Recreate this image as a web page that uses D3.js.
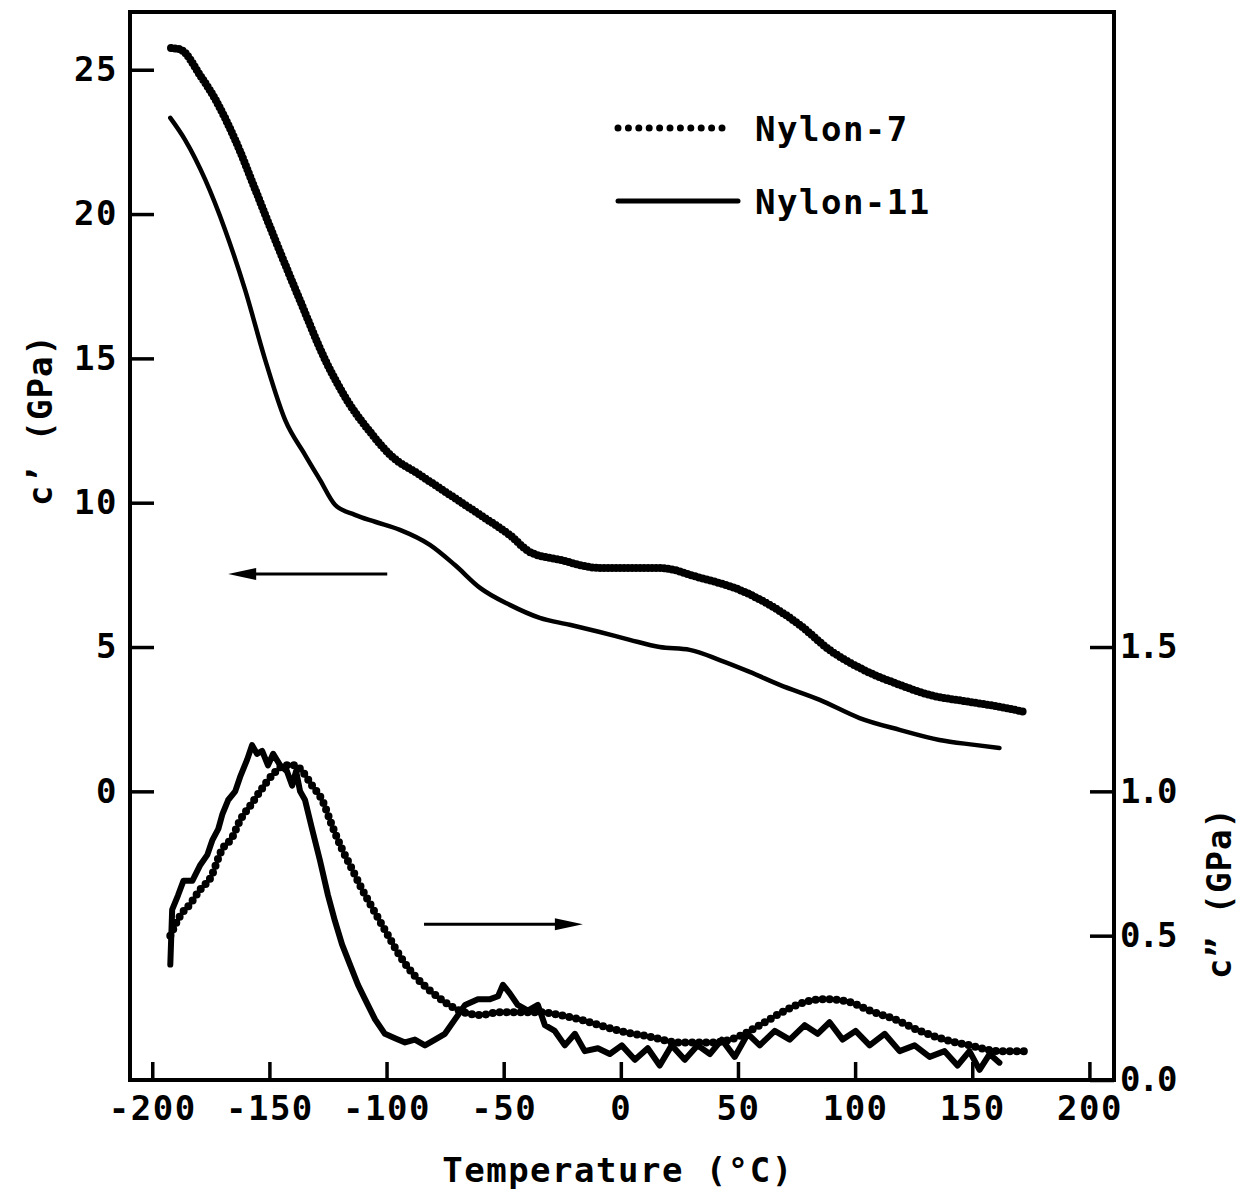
<!DOCTYPE html>
<html>
<head>
<meta charset="utf-8">
<script src="https://cdn.jsdelivr.net/npm/d3@7"></script>
<style>
  body { margin: 0; background: #fff; }
  text { font-family: "DejaVu Sans Mono", monospace; font-weight: bold; fill: #000; }
</style>
</head>
<body>
<script>
// storage modulus c' (left axis) - temperature, GPa
var n7StorT = [-192, -188, -179.5, -173, -164.6, -156, -147.5, -136.9, -126.2, -115.6, -107, -98.5, -85.7, -72.9, -60.1, -47.4, -38.8, -26, -9, 0, 16.6, 33.7, 50.7, 63.5, 76.3, 89.1, 101.9, 119, 131.8, 148.8, 161.6, 172.3];
var n7StorV = [25.75, 25.7, 24.8, 23.96, 22.57, 20.84, 19.1, 17.0, 14.95, 13.39, 12.45, 11.66, 10.96, 10.27, 9.58, 8.88, 8.29, 8.02, 7.74, 7.74, 7.74, 7.4, 6.98, 6.46, 5.77, 4.9, 4.28, 3.69, 3.34, 3.1, 2.93, 2.75];

var n11StorT = [-192.3, -186, -177.4, -168.9, -160.4, -151.8, -143.3, -134.8, -128.4, -122, -113.5, -104.9, -94.3, -81.5, -70.8, -60.1, -47.4, -34.6, -21.8, -9, 3.8, 16.6, 29.4, 42.2, 55, 67.8, 84.9, 101.9, 119, 136, 151, 161.6];
var n11StorV = [23.33, 22.57, 21.19, 19.45, 17.38, 14.95, 12.87, 11.66, 10.79, 9.93, 9.58, 9.34, 9.06, 8.54, 7.84, 7.05, 6.46, 6.01, 5.77, 5.52, 5.25, 5.0, 4.9, 4.55, 4.14, 3.69, 3.17, 2.54, 2.13, 1.78, 1.61, 1.5];

// loss modulus c'' (right axis)
var n7LossT = [-192.3, -188, -183.8, -179.5, -175.2, -170.1, -165.9, -162.5, -158.2, -154, -148.4, -143.3, -139, -136, -131.8, -127.5, -123.2, -119, -114.7, -110.4, -104.9, -99.3, -94.3, -87.9, -81.5, -75.1, -68.7, -60.1, -51.6, -43.1, -34.6, -26, -17.5, -9, -0.4, 12.4, 25.2, 38, 48.6, 59.3, 70, 78.5, 87.1, 97.7, 106.3, 117, 127.6, 138.3, 149, 161.6, 172.3];
var n7LossV = [0.50, 0.57, 0.61, 0.66, 0.70, 0.80, 0.84, 0.90, 0.95, 1.00, 1.06, 1.09, 1.09, 1.07, 1.02, 0.97, 0.88, 0.80, 0.73, 0.66, 0.58, 0.50, 0.43, 0.36, 0.31, 0.27, 0.24, 0.225, 0.235, 0.235, 0.235, 0.225, 0.21, 0.19, 0.17, 0.15, 0.13, 0.13, 0.145, 0.19, 0.24, 0.27, 0.28, 0.27, 0.24, 0.21, 0.17, 0.14, 0.12, 0.10, 0.10];

var n11LossT = [-192.3, -191.5, -189, -186.7, -182.9, -179.5, -176.5, -174.4, -171.8, -170.1, -167.6, -164.6, -162.5, -159.5, -157.4, -155.3, -153.1, -150.6, -148.4, -145.4, -142.5, -140.3, -138.6, -136.9, -134.8, -131.8, -128.4, -125, -122, -119, -115.6, -112.2, -109.2, -104.9, -100.7, -96.4, -92.1, -87.9, -83.6, -79.3, -75.1, -70.8, -66.5, -61, -55.8, -52.4, -50.3, -47.4, -44, -39.7, -35.4, -32.4, -28.2, -23.9, -19.6, -15.4, -9.8, -4.7, 0.4, 6, 11.5, 16.6, 21.7, 27.3, 32.8, 38, 43.1, 48.6, 54.2, 59.3, 65.7, 72.1, 78.5, 84, 89.1, 94.7, 100.2, 106.2, 112.6, 119, 125.4, 131.8, 138.2, 143.7, 148.8, 153.1, 157.4, 161.6];
var n11LossV = [0.40, 0.59, 0.64, 0.69, 0.69, 0.745, 0.78, 0.83, 0.87, 0.92, 0.97, 1.00, 1.05, 1.11, 1.16, 1.13, 1.14, 1.09, 1.13, 1.09, 1.07, 1.02, 1.07, 1.00, 0.97, 0.87, 0.76, 0.64, 0.55, 0.47, 0.40, 0.33, 0.28, 0.21, 0.16, 0.145, 0.13, 0.14, 0.12, 0.14, 0.16, 0.21, 0.26, 0.28, 0.28, 0.29, 0.33, 0.30, 0.26, 0.24, 0.26, 0.19, 0.17, 0.12, 0.16, 0.10, 0.11, 0.09, 0.12, 0.07, 0.11, 0.05, 0.12, 0.07, 0.12, 0.09, 0.14, 0.08, 0.16, 0.12, 0.17, 0.14, 0.19, 0.16, 0.20, 0.14, 0.17, 0.12, 0.16, 0.10, 0.12, 0.08, 0.10, 0.05, 0.10, 0.035, 0.09, 0.06];

var xTicks = [-200, -150, -100, -50, 0, 50, 100, 150, 200];
var leftTicks = [0, 5, 10, 15, 20, 25];
var rightTicks = [0, 0.5, 1.0, 1.5];
var seriesNames = ["Nylon-7", "Nylon-11"];

var width = 1240, height = 1199;
var plotL = 130, plotR = 1114, plotT = 12, plotB = 1080;

var svg = d3.select("body").append("svg").attr("width", width).attr("height", height);

var x = d3.scaleLinear().domain([-209.5, 210.5]).range([plotL, plotR]);
var yL = d3.scaleLinear().domain([-10, 27]).range([plotB, plotT]);
var yR = d3.scaleLinear().domain([0, 3.7]).range([plotB, plotT]);

function pairs(t, v) { return t.map(function (d, i) { return [d, v[i]]; }); }

// frame
svg.append("rect").attr("x", plotL).attr("y", plotT).attr("width", plotR - plotL).attr("height", plotB - plotT)
    .attr("fill", "none").attr("stroke", "#000").attr("stroke-width", 4);

// axes
var xAxis = svg.append("g").attr("transform", "translate(0," + plotB + ")")
    .call(d3.axisBottom(x).tickValues(xTicks).tickSizeInner(-18).tickSizeOuter(0).tickPadding(16).tickFormat(String));
var lAxis = svg.append("g").attr("transform", "translate(" + plotL + ",0)")
    .call(d3.axisLeft(yL).tickValues(leftTicks).tickSizeInner(-24).tickSizeOuter(0).tickPadding(12).tickFormat(String));
var rAxis = svg.append("g").attr("transform", "translate(" + plotR + ",0)")
    .call(d3.axisRight(yR).tickValues(rightTicks).tickSizeInner(-24).tickSizeOuter(0).tickPadding(6).tickFormat(d3.format(".1f")));

[xAxis, lAxis, rAxis].forEach(function (g) {
    g.select(".domain").remove();
    g.selectAll(".tick line").attr("stroke", "#000").attr("stroke-width", 3.5);
    g.selectAll(".tick text").attr("font-size", 34).attr("letter-spacing", 1.5)
        .attr("font-family", "DejaVu Sans Mono").attr("font-weight", "bold").attr("fill", "#000");
});
rAxis.selectAll(".tick text").attr("letter-spacing", -2);

// lines
var lineL = d3.line().x(function (d) { return x(d[0]); }).y(function (d) { return yL(d[1]); }).curve(d3.curveMonotoneX);
var lineR = d3.line().x(function (d) { return x(d[0]); }).y(function (d) { return yR(d[1]); }).curve(d3.curveMonotoneX);
var lineRraw = d3.line().x(function (d) { return x(d[0]); }).y(function (d) { return yR(d[1]); });

svg.append("path").attr("d", lineL(pairs(n7StorT, n7StorV)))
    .attr("fill", "none").attr("stroke", "#000").attr("stroke-width", 8)
    .attr("stroke-linecap", "round").attr("stroke-dasharray", "0 4");
svg.append("path").attr("d", lineL(pairs(n11StorT, n11StorV)))
    .attr("fill", "none").attr("stroke", "#000").attr("stroke-width", 4.5).attr("stroke-linecap", "round");

svg.append("path").attr("d", lineR(pairs(n7LossT, n7LossV)))
    .attr("fill", "none").attr("stroke", "#000").attr("stroke-width", 8)
    .attr("stroke-linecap", "round").attr("stroke-dasharray", "0 7");
svg.append("path").attr("d", lineRraw(pairs(n11LossT, n11LossV)))
    .attr("fill", "none").attr("stroke", "#000").attr("stroke-width", 6)
    .attr("stroke-linejoin", "round").attr("stroke-linecap", "round");

// arrows
function arrow(x1, x2, yy) {
    var dir = x2 > x1 ? 1 : -1;
    svg.append("line").attr("x1", x1).attr("x2", x2 - dir * 20).attr("y1", yy).attr("y2", yy)
        .attr("stroke", "#000").attr("stroke-width", 3);
    svg.append("path").attr("d", "M" + x2 + "," + yy + " L" + (x2 - dir * 28) + "," + (yy - 6) +
        " L" + (x2 - dir * 28) + "," + (yy + 6) + " Z").attr("fill", "#000");
}
arrow(x(-99.7), x(-167.6), yL(7.53));
arrow(x(-84), x(-16.2), yR(0.54));

// legend
var legend = svg.append("g");
legend.append("line").attr("x1", 618).attr("x2", 722).attr("y1", 128).attr("y2", 128)
    .attr("stroke", "#000").attr("stroke-width", 7).attr("stroke-linecap", "round").attr("stroke-dasharray", "0 10.4");
legend.append("line").attr("x1", 618).attr("x2", 738).attr("y1", 201).attr("y2", 201)
    .attr("stroke", "#000").attr("stroke-width", 5).attr("stroke-linecap", "round");
legend.selectAll("text.lab").data(seriesNames).enter().append("text")
    .attr("x", 755).attr("y", function (d, i) { return 141 + i * 73; })
    .attr("font-size", 34).attr("letter-spacing", 1.5).text(function (d) { return d; });

// axis titles
svg.append("text").attr("x", 618).attr("y", 1182).attr("text-anchor", "middle")
    .attr("font-size", 34).attr("letter-spacing", 1.5).text("Temperature (°C)");
svg.append("text").attr("transform", "translate(52,420) rotate(-90)").attr("text-anchor", "middle")
    .attr("font-size", 34).attr("letter-spacing", 1).text("c’ (GPa)");
svg.append("text").attr("transform", "translate(1231,893) rotate(-90)").attr("text-anchor", "middle")
    .attr("font-size", 34).attr("letter-spacing", 1).text("c” (GPa)");
</script>
</body>
</html>
